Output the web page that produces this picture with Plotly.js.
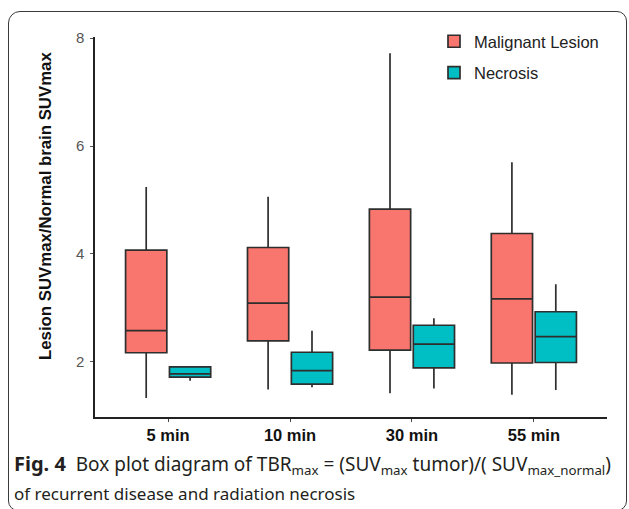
<!DOCTYPE html>
<html>
<head>
<meta charset="utf-8">
<script src="https://cdn.plot.ly/plotly-3.0.1.min.js"></script>
<style>
html,body{margin:0;padding:0;background:#fff;}
#wrap{position:relative;width:629px;height:509px;overflow:hidden;}
#chart{position:absolute;left:0;top:0;width:629px;height:509px;}
#frame{position:absolute;left:8px;top:11px;width:617px;height:498px;border:1.2px solid #3a3a3a;border-radius:12px 10px 10px 10px;pointer-events:none;}
</style>
</head>
<body>
<div id="wrap">
<div id="chart"></div>
<div id="frame"></div>
</div>
<script>
// Categories (time points)
const categories = ["5 min", "10 min", "30 min", "55 min"];

// Malignant Lesion box statistics
const malLower  = [1.33, 1.49, 1.42, 1.39];
const malQ1     = [2.17, 2.39, 2.22, 1.98];
const malMedian = [2.58, 3.09, 3.20, 3.17];
const malQ3     = [4.07, 4.12, 4.83, 4.38];
const malUpper  = [5.24, 5.06, 7.72, 5.70];

// Necrosis box statistics
const necLower  = [1.65, 1.53, 1.51, 1.48];
const necQ1     = [1.72, 1.59, 1.89, 1.99];
const necMedian = [1.78, 1.84, 2.33, 2.47];
const necQ3     = [1.91, 2.18, 2.68, 2.93];
const necUpper  = [1.92, 2.58, 2.81, 3.44];

const yTicks = [2, 4, 6, 8];

const W = 629, H = 509;
const M = {l: 95, r: 22, t: 37, b: 92};
const pw = W - M.l - M.r, ph = H - M.t - M.b;
const px2x = p => (p - M.l) / pw;
const py2y = p => (H - M.b - p) / ph;

const boxLine = {color: "#2e2e2e", width: 1.7};

const traces = [
  {
    type: "box", name: "Malignant Lesion", legendgroup: "a", x: categories,
    q1: malQ1, median: malMedian, q3: malQ3,
    lowerfence: malLower, upperfence: malUpper,
    fillcolor: "#F8766D", line: boxLine, whiskerwidth: 0,
    boxpoints: false, hoverinfo: "skip"
  },
  {
    type: "box", name: "Necrosis", legendgroup: "b", x: categories,
    q1: necQ1, median: necMedian, q3: necQ3,
    lowerfence: necLower, upperfence: necUpper,
    fillcolor: "#00BFC4", line: boxLine, whiskerwidth: 0,
    boxpoints: false, hoverinfo: "skip"
  }
];

const layout = {
  width: W, height: H,
  margin: M,
  paper_bgcolor: "#ffffff", plot_bgcolor: "#ffffff",
  boxmode: "group", boxgap: 0.28, boxgroupgap: 0.06,
  font: {family: "Liberation Sans, Arial, sans-serif", color: "#333"},
  xaxis: {
    type: "category", range: [-0.6, 3.6],
    showline: true, linecolor: "#222", linewidth: 1.6,
    ticks: "outside", ticklen: 3, tickcolor: "#444", tickwidth: 1,
    showgrid: false, zeroline: false,
    tickfont: {family: "Liberation Sans Narrow, Liberation Sans, Arial, sans-serif", size: 16.5, color: "#111", weight: "bold"},
    fixedrange: true
  },
  yaxis: {
    range: [0.98, 8.02],
    tickvals: yTicks, ticktext: yTicks.map(String),
    showline: true, linecolor: "#222", linewidth: 1.6,
    ticks: "outside", ticklen: 3, tickcolor: "#555", tickwidth: 1,
    ticklabelstandoff: 3,
    showgrid: false, zeroline: false,
    tickfont: {family: "Liberation Sans, Arial, sans-serif", size: 15, color: "#555"},
    fixedrange: true
  },
  showlegend: true,
  legend: {
    x: px2x(434), y: py2y(24), xanchor: "left", yanchor: "top",
    bgcolor: "rgba(0,0,0,0)", borderwidth: 0,
    font: {family: "Liberation Sans, Arial, sans-serif", size: 16.5, color: "#222"},
    tracegroupgap: 7, itemwidth: 30
  },
  annotations: [
    {
      xref: "paper", yref: "paper", x: px2x(45), y: py2y(206),
      xanchor: "center", yanchor: "middle", showarrow: false, textangle: -90,
      text: "<b>Lesion SUVmax/Normal brain SUVmax</b>",
      font: {family: "Liberation Sans, Arial, sans-serif", size: 16.8, color: "#111"}
    },
    {
      xref: "paper", yref: "paper", x: px2x(12), y: py2y(464),
      xanchor: "left", yanchor: "middle", showarrow: false, align: "left",
      text: "<b><span style=\"font-size:20px\">Fig. 4</span></b>  Box plot diagram of TBR<sub>max</sub> = (SUV<sub>max</sub> tumor)/( SUV<sub>max_normal</sub>)",
      font: {family: "Noto Sans, Open Sans, sans-serif", size: 19, color: "#231f20"}
    },
    {
      xref: "paper", yref: "paper", x: px2x(12), y: py2y(493),
      xanchor: "left", yanchor: "middle", showarrow: false, align: "left",
      text: "of recurrent disease and radiation necrosis",
      font: {family: "Noto Sans, Open Sans, sans-serif", size: 17, color: "#231f20"}
    }
  ]
};

Plotly.newPlot("chart", traces, layout, {displayModeBar: false, staticPlot: true});
</script>
</body>
</html>
